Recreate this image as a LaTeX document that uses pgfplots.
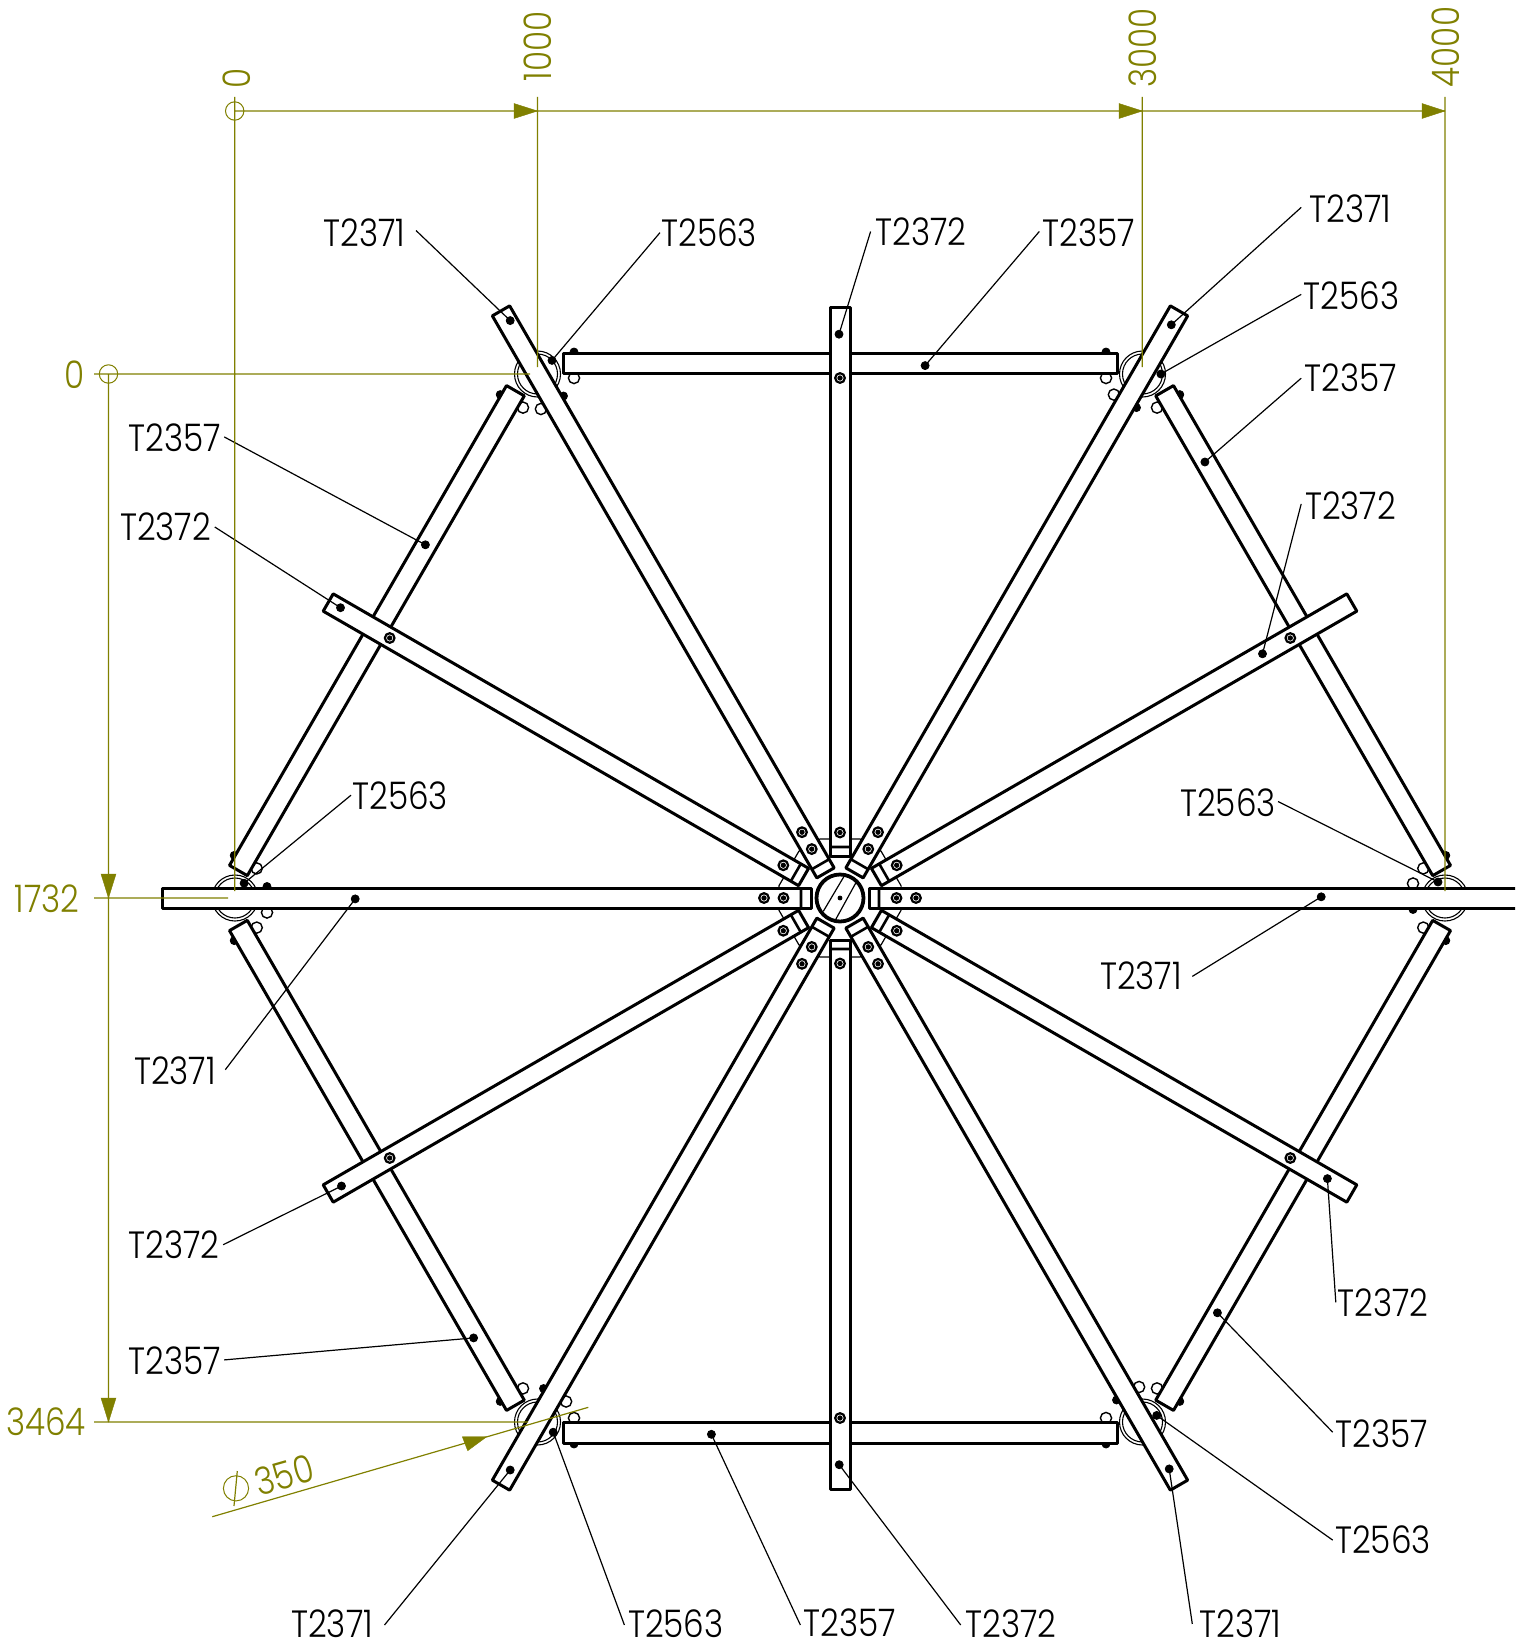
\documentclass[border=0pt]{standalone}
\usepackage{fontspec}
\setmainfont{Poppins}[UprightFont=* Light,FakeStretch=0.86,Numbers=Monospaced]
\usepackage{pgfplots}
\pgfplotsset{compat=1.18}
\definecolor{dimc}{RGB}{128,128,0}
\tikzset{
  tube/.style={fill=white,draw=black,line width=1.5pt,line join=round},
  thinl/.style={black,line width=0.6pt},
  capl/.style={black,line width=1.3pt},
  dim/.style={dimc,line width=0.6pt},
  head/.style={fill=dimc,draw=dimc,line width=0.2pt},
  lab/.style={font=\fontsize{19}{19}\selectfont,inner sep=0pt,text=black},
  dlab/.style={font=\fontsize{19}{19}\selectfont,inner sep=0pt,text=dimc},
}
\begin{document}
\begin{tikzpicture}
\useasboundingbox (0,0) rectangle (757.5pt,821.5pt);
\begin{axis}[
  at={(0,0)},anchor=south west,
  scale only axis,width=757.5pt,height=821.5pt,
  xmin=0,xmax=1515,ymin=0,ymax=1643,y dir=reverse,
  hide axis,unbounded coords=jump,clip mode=individual,
]
% centre plate
\addplot[fill=white,draw=black,line width=0.6pt] coordinates {
 (820,839) (860,839) (881.1,851.2) (901.1,885.8) (901.1,910.2) (881.1,944.8)
 (860,957) (820,957) (798.9,944.8) (778.9,910.2) (778.9,885.8) (798.9,851.2)} --cycle;
% rings at the six corners
\addplot[only marks,mark=o,mark size=11.5pt,mark options={black,line width=0.55pt}] coordinates {
 (537.5,374) (1142.5,374) (235,898) (1445,898) (537.5,1422) (1142.5,1422)};
\addplot[only marks,mark=o,mark size=10pt,mark options={black,line width=0.55pt}] coordinates {
 (537.5,374) (1142.5,374) (235,898) (1445,898) (537.5,1422) (1142.5,1422)};
% bolts sticking out from the tubes
\addplot[only marks,mark=*,mark size=2.8pt,mark options={fill=white,draw=black,line width=0.7pt}] coordinates {
 (574,378) (1106,378) (574,1418) (1106,1418)
 (256.7,868.4) (523,407.6) (1423.3,868.4) (1157,407.6)
 (256.7,927.6) (523,1388.4) (1423.3,927.6) (1157,1388.4)
 (1413,883.5) (267,912.5) (1113.9,394.6) (540.9,409) (566.1,1401.5) (1139.1,1387)};
\addplot[only marks,mark=*,mark size=2pt,mark options={black}] coordinates {
 (574,352) (1106,352) (574,1444) (1106,1444)
 (234.2,855.4) (500.2,394.6) (1445.8,855.4) (1179.8,394.6)
 (234.2,940.6) (500.2,1401.4) (1445.8,940.6) (1179.8,1401.4)
 (1413,909.5) (267,886.5) (1136.5,407.6) (563.5,396) (543.5,1388.5) (1116.5,1400)};
% T2357, the six sides
\addplot[tube] coordinates {(563,373.5) (563,353) (1117,353) (1117,373.5)} --cycle;
\addplot[tube] coordinates {(563,1422.5) (563,1443) (1117,1443) (1117,1422.5)} --cycle;
\addplot[tube] coordinates {(247.3,875.65) (229.5,865.4) (506.5,385.6) (524.3,395.85)} --cycle;
\addplot[tube] coordinates {(1432.7,875.65) (1450.5,865.4) (1173.5,385.6) (1155.7,395.85)} --cycle;
\addplot[tube] coordinates {(247.3,920.35) (229.5,930.6) (506.5,1410.4) (524.3,1400.15)} --cycle;
\addplot[tube] coordinates {(1432.7,920.35) (1450.5,930.6) (1173.5,1410.4) (1155.7,1400.15)} --cycle;
% T2372, the short spokes
\addplot[tube] coordinates {(830,856) (830,307) (850,307) (850,856)} --cycle;
\addplot[tube] coordinates {(830,940) (830,1489) (850,1489) (850,940)} --cycle;
\addplot[tube] coordinates {(881.4,885.66) (1356.8,611.16) (1346.8,593.84) (871.4,868.34)} --cycle;
\addplot[tube] coordinates {(798.6,885.66) (323.2,611.16) (333.2,593.84) (808.6,868.34)} --cycle;
\addplot[tube] coordinates {(881.4,910.34) (1356.8,1184.84) (1346.8,1202.16) (871.4,927.66)} --cycle;
\addplot[tube] coordinates {(798.6,910.34) (323.2,1184.84) (333.2,1202.16) (808.6,927.66)} --cycle;
\addplot[capl] coordinates {(830,847) (850,847) (nan,nan) (830,949) (850,949)
 (nan,nan) (889.2,881.2) (879.2,863.8) (nan,nan) (790.8,881.2) (800.8,863.8)
 (nan,nan) (889.2,914.8) (879.2,932.2) (nan,nan) (790.8,914.8) (800.8,932.2)};
% T2371, the long spokes
\addplot[tube] coordinates {(1525,888) (869,888) (869,908) (1525,908)};
\addplot[tube] coordinates {(811,888) (811,908) (162,908) (162,888)} --cycle;
\addplot[tube] coordinates {(863.16,877.89) (845.84,867.89) (1170.34,305.85) (1187.66,315.85)} --cycle;
\addplot[tube] coordinates {(816.84,877.89) (834.16,867.89) (509.66,305.85) (492.34,315.85)} --cycle;
\addplot[tube] coordinates {(863.16,918.11) (845.84,928.11) (1170.34,1490.15) (1187.66,1480.15)} --cycle;
\addplot[tube] coordinates {(816.84,918.11) (834.16,928.11) (509.66,1490.15) (492.34,1480.15)} --cycle;
\addplot[capl] coordinates {(879,888) (879,908) (nan,nan) (801,888) (801,908)
 (nan,nan) (868.16,869.23) (850.84,859.23) (nan,nan) (811.84,869.23) (829.16,859.23)
 (nan,nan) (868.16,926.77) (850.84,936.77) (nan,nan) (811.84,926.77) (829.16,936.77)};
% hub
\addplot[only marks,mark=*,mark size=11.75pt,mark options={fill=white,draw=black,line width=1.9pt}] coordinates {(840,898)};
\addplot[black,line width=0.6pt] coordinates {(823.3,911.3) (845,874.7) (nan,nan) (835,920.7) (856.7,881.3)};
\addplot[only marks,mark=*,mark size=1pt,mark options={black}] coordinates {(840,898)};
% screws round the hub and on the short spokes
\addplot[only marks,mark=o,mark size=2.4pt,mark options={black,line width=1.1pt}] coordinates {
 (896.5,898) (916,898) (783.5,898) (764,898)
 (868.25,849.07) (878,832.18) (811.75,849.07) (802,832.18)
 (868.25,946.93) (878,963.82) (811.75,946.93) (802,963.82)
 (840,832.5) (840,963.5) (896.7,865.25) (783.3,865.25) (896.7,930.75) (783.3,930.75)
 (840,378) (840,1418) (1290.3,638) (389.7,638) (1290.3,1158) (389.7,1158)};
\addplot[only marks,mark=*,mark size=1.1pt,mark options={black}] coordinates {
 (896.5,898) (916,898) (783.5,898) (764,898)
 (868.25,849.07) (878,832.18) (811.75,849.07) (802,832.18)
 (868.25,946.93) (878,963.82) (811.75,946.93) (802,963.82)
 (840,832.5) (840,963.5) (896.7,865.25) (783.3,865.25) (896.7,930.75) (783.3,930.75)
 (840,378) (840,1418) (1290.3,638) (389.7,638) (1290.3,1158) (389.7,1158)};
% leaders
\addplot[thinl] coordinates {
 (416,230.5) (510.2,320.6) (nan,nan) (660,232.6) (552,360.4) (nan,nan) (870.6,231.5) (839,334.2)
 (nan,nan) (1039.3,231.5) (925.1,365.6) (nan,nan) (1301.2,207.4) (1171.3,324.8) (nan,nan) (1301.2,294.4) (1160.9,374)
 (nan,nan) (1301.2,378.2) (1204.9,462) (nan,nan) (1301.2,503.9) (1262.5,653.8) (nan,nan) (1278,801.5) (1438,882)
 (nan,nan) (1192.3,976.4) (1321.2,896.8) (nan,nan) (1335.8,1302.3) (1327.4,1178.6) (nan,nan) (1332.7,1432.2) (1217.4,1312.8)
 (nan,nan) (1332.7,1540.1) (1156.7,1415.4) (nan,nan) (1192.3,1623.9) (1169.2,1468.9) (nan,nan) (960.7,1625) (839.2,1464.7)
 (nan,nan) (800.4,1625) (711.4,1434.3) (nan,nan) (624.4,1625) (553.2,1432.2) (nan,nan) (384.5,1625) (510.2,1470)
 (nan,nan) (224.2,1359.9) (473.6,1337.9) (nan,nan) (223.2,1244.7) (341.5,1186) (nan,nan) (225.3,1069.7) (355.2,898.9)
 (nan,nan) (351,795.2) (244.1,883.2) (nan,nan) (214.8,527) (340.5,607.7) (nan,nan) (224.2,436.9) (425.4,544.8)};
\addplot[only marks,mark=*,mark size=2pt,mark options={black}] coordinates {
 (510.2,320.6) (552,360.4) (839,334.2) (925.1,365.6) (1171.3,324.8) (1160.9,374)
 (1204.9,462) (1262.5,653.8) (1438,882) (1321.2,896.8) (1327.4,1178.6) (1217.4,1312.8)
 (1156.7,1415.4) (1169.2,1468.9) (839.2,1464.7) (711.4,1434.3) (553.2,1432.2) (510.2,1470)
 (473.6,1337.9) (341.5,1186) (355.2,898.9) (244.1,883.2) (340.5,607.7) (425.4,544.8)};
% dimensions
\addplot[dim] coordinates {(234.7,111) (1445,111) (nan,nan) (234.7,97) (234.7,891)
 (nan,nan) (537.5,97) (537.5,367) (nan,nan) (1142.3,97) (1142.3,367) (nan,nan) (1445,97) (1445,891)
 (nan,nan) (108.5,374) (108.5,1422) (nan,nan) (94,374) (530,374) (nan,nan) (94,898) (228,898) (nan,nan) (94,1422) (528,1422)
 (nan,nan) (212.3,1516.7) (588.3,1407.3) (nan,nan) (237.3,1471) (234,1506)};
\addplot[only marks,mark=o,mark size=4.6pt,mark options={dimc,line width=0.5pt}] coordinates {(234.7,111) (108.5,374)};
\addplot[only marks,mark=o,mark size=6.3pt,mark options={dimc,line width=0.5pt}] coordinates {(236,1488.3)};
\addplot[head] coordinates {(537.5,111) (514,103.5) (514,118.5)} --cycle;
\addplot[head] coordinates {(1142.3,111) (1119,103.5) (1119,118.5)} --cycle;
\addplot[head] coordinates {(1445,111) (1422,103.5) (1422,118.5)} --cycle;
\addplot[head] coordinates {(108.5,898) (101,874) (116,874)} --cycle;
\addplot[head] coordinates {(108.5,1422) (101,1398) (116,1398)} --cycle;
\addplot[head] coordinates {(486.7,1436.7) (462.3,1436.7) (467.7,1450.7)} --cycle;
% labels
\node[lab] at (axis cs:364.6,232.6) {T2371};
\node[lab] at (axis cs:709.3,232.6) {T2563};
\node[lab] at (axis cs:920.9,231.5) {T2372};
\node[lab] at (axis cs:1088.6,232.6) {T2357};
\node[lab] at (axis cs:1350.5,208.5) {T2371};
\node[lab] at (axis cs:1351.5,295.5) {T2563};
\node[lab] at (axis cs:1350.5,378.2) {T2357};
\node[lab] at (axis cs:1350.5,506) {T2372};
\node[lab] at (axis cs:1227.9,802.5) {T2563};
\node[lab] at (axis cs:1140.9,975.4) {T2371};
\node[lab] at (axis cs:1383,1302.3) {T2372};
\node[lab] at (axis cs:1381.9,1433.3) {T2357};
\node[lab] at (axis cs:1383,1540.1) {T2563};
\node[lab] at (axis cs:1240.5,1624) {T2371};
\node[lab] at (axis cs:1011,1624) {T2372};
\node[lab] at (axis cs:849.7,1623) {T2357};
\node[lab] at (axis cs:675.8,1624) {T2563};
\node[lab] at (axis cs:332.1,1624) {T2371};
\node[lab] at (axis cs:175,1361) {T2357};
\node[lab] at (axis cs:173.9,1244.7) {T2372};
\node[lab] at (axis cs:175,1070.8) {T2371};
\node[lab] at (axis cs:400.2,795.2) {T2563};
\node[lab] at (axis cs:165.5,527) {T2372};
\node[lab] at (axis cs:175,438) {T2357};
\node[dlab,rotate=90] at (axis cs:236.8,78.6) {0};
\node[dlab,rotate=90] at (axis cs:537.5,46.1) {1000};
\node[dlab,rotate=90] at (axis cs:1143,48) {3000};
\node[dlab,rotate=90] at (axis cs:1445.8,47) {4000};
\node[dlab] at (axis cs:74.4,375) {0};
\node[dlab] at (axis cs:47.1,899) {1732};
\node[dlab] at (axis cs:46.1,1421.7) {3464};
\node[dlab,rotate=16] at (axis cs:284.3,1475) {350};
\end{axis}
\end{tikzpicture}
\end{document}
